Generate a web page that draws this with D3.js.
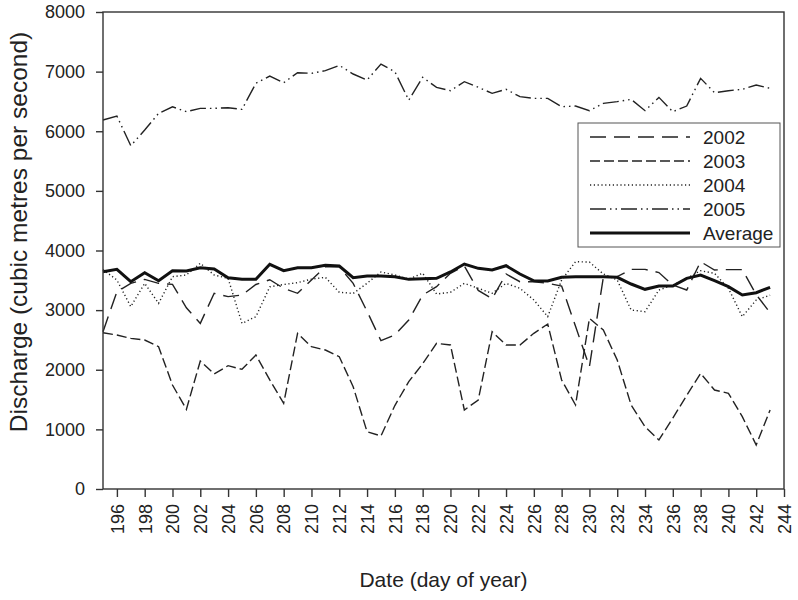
<!DOCTYPE html>
<html lang="en">
<head>
    <meta charset="UTF-8">
    <title>Discharge</title>
    <script src="https://d3js.org/d3.v7.min.js"></script>
    <style>
        body { margin: 0; background: #fff; }
        svg text { font-family: "Liberation Sans", Arial, sans-serif; fill: #222; }
        .series { fill: none; stroke: #222; stroke-width: 1.4px; }
        .avg { fill: none; stroke: #111; stroke-width: 3px; }
        .axis path, .axis line { stroke: #333; stroke-width: 1.4px; }
    </style>
</head>
<body>
    <div id="chart"></div>
    <script>
        // day of year, 195..243
        const days = d3.range(195, 244);

        const y2002 = [2638, 3309, 3449, 3516, 3449, 3433, 3040, 2778, 3282, 3226, 3253, 3430, 3510,
            3366, 3282, 3505, 3728, 3728, 3449, 2980, 2487, 2583, 2834, 3253, 3393, 3617, 3740,
            3330, 3190, 3606, 3477, 3477, 3449, 3404, 2728, 2051, 3550, 3561, 3684, 3684, 3630,
            3420, 3337, 3812, 3673, 3680, 3680, 3260, 2957];
        const y2003 = [2621, 2583, 2527, 2499, 2386, 1744, 1336, 2147, 1929, 2068, 2007, 2247, 1830,
            1437, 2611, 2386, 2331, 2219, 1716, 961, 889, 1400, 1800, 2100, 2443, 2415, 1325,
            1493, 2638, 2415, 2415, 2611, 2767, 1828, 1409, 2862, 2666, 2163, 1409, 1045, 822,
            1190, 1570, 1940, 1660, 1605, 1213, 738, 1325];
        const y2004 = [3680, 3505, 3058, 3449, 3114, 3561, 3589, 3785, 3589, 3533, 2778, 2890, 3390,
            3430, 3460, 3520, 3550, 3300, 3280, 3450, 3640, 3590, 3520, 3620, 3270, 3300, 3449,
            3366, 3282, 3449, 3366, 3170, 2890, 3505, 3812, 3806, 3606, 3505, 3002, 2974, 3337,
            3421, 3533, 3661, 3617, 3366, 2890, 3170, 3250];
        const y2005 = [6188, 6255, 5757, 6020, 6300, 6411, 6328, 6384, 6384, 6395, 6367, 6804, 6926,
            6814, 6982, 6971, 7016, 7105, 6960, 6859, 7127, 6999, 6522, 6904, 6737, 6680, 6831,
            6737, 6636, 6703, 6580, 6552, 6552, 6411, 6423, 6345, 6468, 6496, 6535, 6345, 6568,
            6328, 6423, 6887, 6647, 6680, 6703, 6776, 6720];
        const yAvg = [3644, 3684, 3477, 3628, 3493, 3661, 3656, 3711, 3689, 3544, 3516, 3516, 3768,
            3661, 3711, 3711, 3751, 3740, 3544, 3572, 3572, 3561, 3516, 3527, 3533, 3640, 3773,
            3701, 3673, 3745, 3606, 3493, 3488, 3550, 3561, 3561, 3561, 3550, 3438, 3349, 3404,
            3404, 3533, 3589, 3493, 3393, 3253, 3292, 3382];

        const xTicks = d3.range(196, 245, 2);
        const yTicks = d3.range(0, 8001, 1000);

        const series = [
            { name: "2002", values: y2002, dash: "16,8", cls: "series" },
            { name: "2003", values: y2003, dash: "10,4", cls: "series" },
            { name: "2004", values: y2004, dash: "1.2,2.6", cls: "series" },
            { name: "2005", values: y2005, dash: "16,4,1.5,4,1.5,4", cls: "series" },
            { name: "Average", values: yAvg, dash: null, cls: "avg" }
        ];

        const width = 798, height = 600;
        const plotLeft = 103, plotRight = 784, plotTop = 12, plotBottom = 489;

        const svg = d3.select("#chart").append("svg")
            .attr("width", width)
            .attr("height", height);

        const x = d3.scaleLinear().domain([195, 244]).range([plotLeft, plotRight]);
        const y = d3.scaleLinear().domain([0, 8000]).range([plotBottom, plotTop]);

        const line = d3.line()
            .x((d, i) => x(days[i]))
            .y(d => y(d));

        series.forEach(s => {
            svg.append("path")
                .datum(s.values)
                .attr("class", s.cls)
                .attr("stroke-dasharray", s.dash)
                .attr("d", line);
        });

        // frame
        svg.append("rect")
            .attr("x", plotLeft).attr("y", plotTop)
            .attr("width", plotRight - plotLeft).attr("height", plotBottom - plotTop)
            .attr("fill", "none").attr("stroke", "#333").attr("stroke-width", 1.4);

        const yAxis = svg.append("g")
            .attr("class", "axis")
            .attr("transform", `translate(${plotLeft},0)`)
            .call(d3.axisLeft(y).tickValues(yTicks).tickSize(7).tickPadding(11).tickFormat(d3.format("d")));
        yAxis.select(".domain").remove();
        yAxis.selectAll("text").style("font-size", "18px");

        const xAxis = svg.append("g")
            .attr("class", "axis")
            .attr("transform", `translate(0,${plotBottom})`)
            .call(d3.axisBottom(x).tickValues(xTicks).tickSize(8).tickFormat(d3.format("d")));
        xAxis.select(".domain").remove();
        xAxis.selectAll("text")
            .style("font-size", "18px")
            .attr("text-anchor", "end")
            .attr("transform", "rotate(-90)")
            .attr("x", -15)
            .attr("y", 0)
            .attr("dy", "0.35em");

        svg.append("text")
            .attr("x", (plotLeft + plotRight) / 2)
            .attr("y", 587)
            .attr("text-anchor", "middle")
            .style("font-size", "21px")
            .text("Date (day of year)");

        svg.append("text")
            .attr("transform", "translate(27,232) rotate(-90)")
            .attr("text-anchor", "middle")
            .style("font-size", "24.5px")
            .text("Discharge (cubic metres per second)");

        // legend
        const legend = svg.append("g");
        legend.append("rect")
            .attr("x", 578).attr("y", 123)
            .attr("width", 202).attr("height", 124)
            .attr("fill", "#fff").attr("stroke", "#555").attr("stroke-width", 1);

        series.forEach((s, i) => {
            const ly = 137 + i * 24;
            legend.append("line")
                .attr("class", s.cls)
                .attr("x1", 590).attr("x2", 690)
                .attr("y1", ly).attr("y2", ly)
                .attr("stroke-dasharray", s.dash);
            legend.append("text")
                .attr("x", 703).attr("y", ly + 7)
                .style("font-size", "19px")
                .text(s.name);
        });
    </script>
</body>
</html>
